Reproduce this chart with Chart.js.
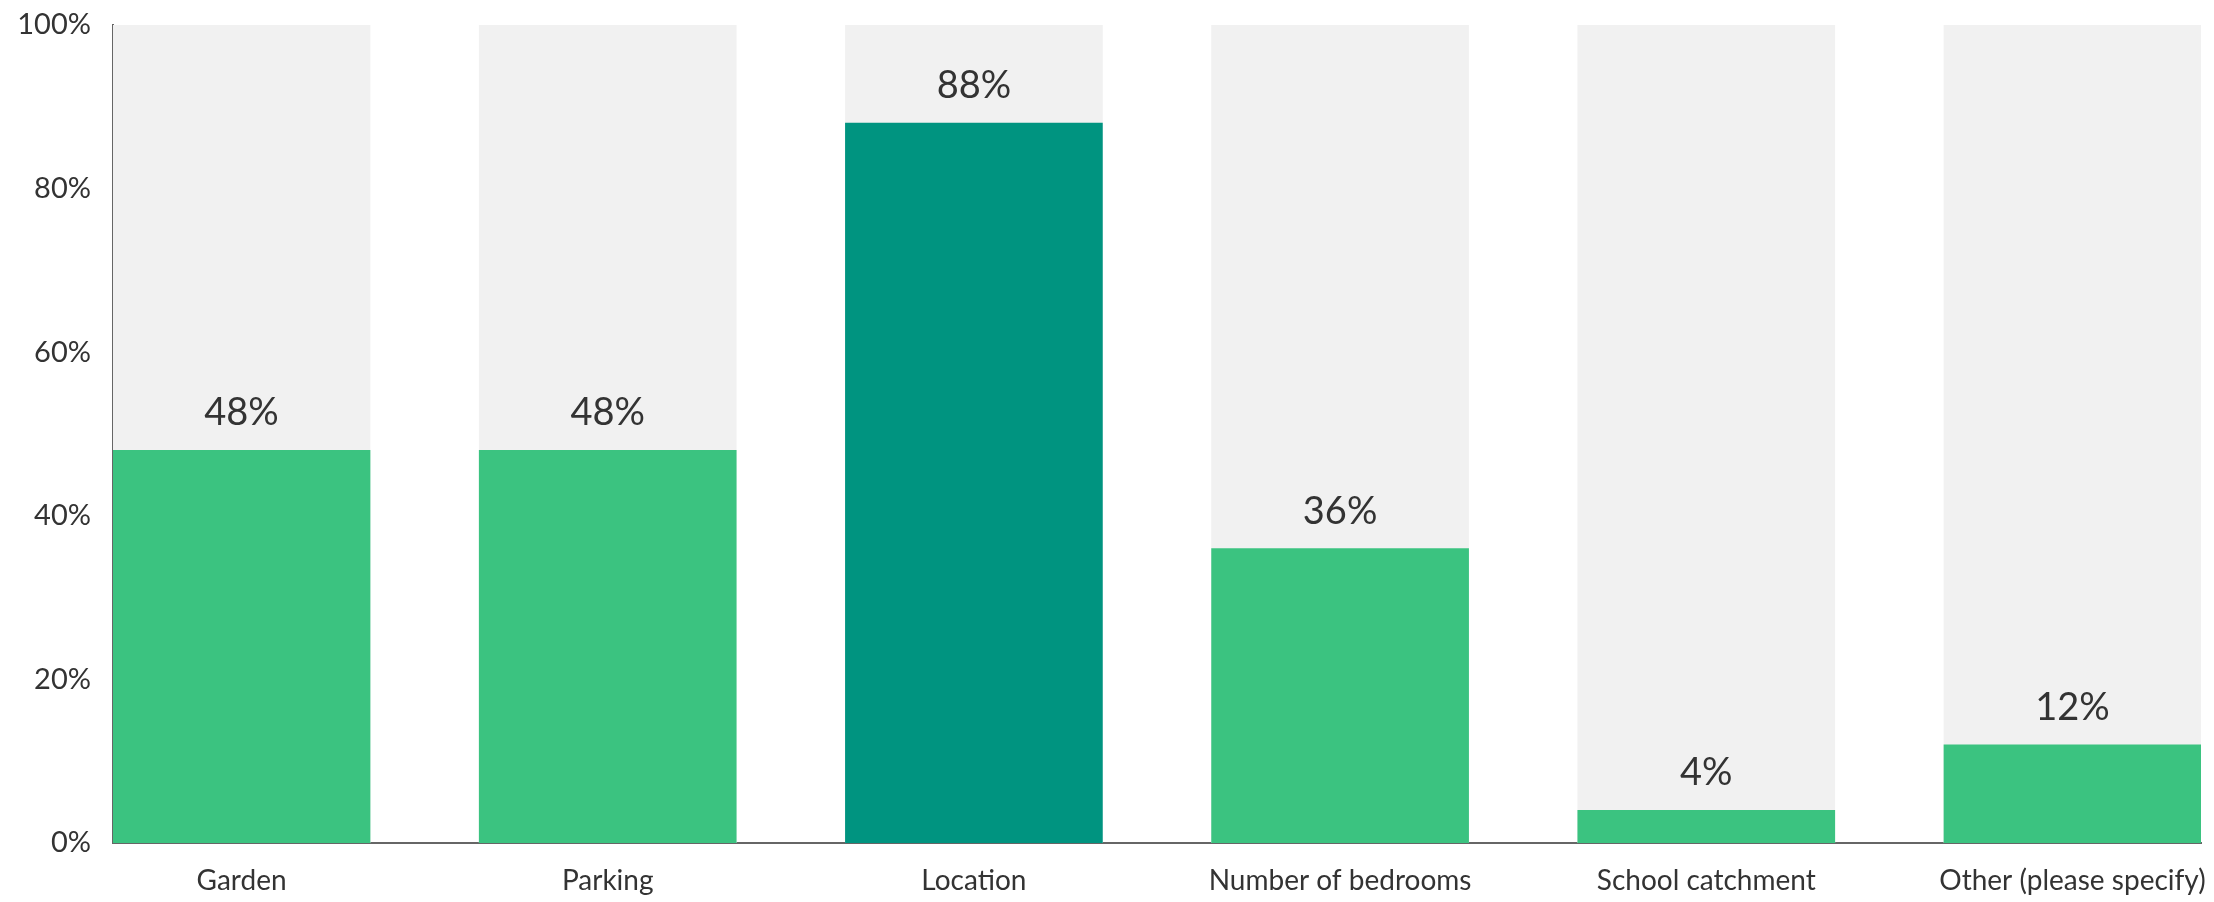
<!DOCTYPE html>
<html>
<head>
<meta charset="utf-8">
<script src="https://cdn.jsdelivr.net/npm/chart.js@4"></script>
<style>
html,body{margin:0;padding:0;background:#fff;}
#wrap{width:2214px;height:902px;}
</style>
</head>
<body>
<div id="wrap"><canvas id="chart" width="2214" height="902"></canvas></div>
<script>
const categories = ['Garden','Parking','Location','Number of bedrooms','School catchment','Other (please specify)'];
const shares = [48,48,88,36,4,12];
const track = [100,100,100,100,100,100];
const highlight = 'Location';

const barColors = categories.map(c => c === highlight ? '#009480' : '#3bc380');

const valueLabels = {
id:'valueLabels',
afterDatasetsDraw(chart){
const ctx = chart.ctx;
const meta = chart.getDatasetMeta(1);
ctx.save();
ctx.font = '38px Lato';
ctx.fillStyle = '#333';
ctx.textAlign = 'center';
ctx.textBaseline = 'alphabetic';
meta.data.forEach((bar,i)=>{
ctx.fillText(shares[i] + '%', bar.x, bar.y - 25);
});
ctx.restore();
}
};

new Chart(document.getElementById('chart'),{
type:'bar',
data:{
datasets:[
{data:track.map((v,i)=>({x:i,y:v})),backgroundColor:'#f1f1f1',grouped:false,order:2,barThickness:257},
{data:shares.map((v,i)=>({x:i,y:v})),backgroundColor:barColors,grouped:false,order:1,barThickness:257}
]
},
options:{
responsive:false,
animation:false,
layout:{padding:{top:0,right:13,left:0,bottom:0}},
plugins:{legend:{display:false},tooltip:{enabled:false}},
scales:{
x:{
type:'linear',
offset:false,
min:-0.351,
max:5.351,
grid:{display:false},
border:{color:'#666',width:2},
afterFit(scale){
scale.height = 59;
scale.paddingLeft = 0;
scale.paddingRight = 0;
},
ticks:{
stepSize:1,
includeBounds:false,
autoSkip:false,
maxRotation:0,
color:'#333',
padding:13,
font:{family:'Lato',size:28},
callback:v => categories[v] ?? ''
}
},
y:{
min:0,
max:100,
grid:{display:false},
border:{color:'#666',width:2},
afterFit(scale){
scale.width = 113;
scale.paddingTop = 25;
scale.paddingBottom = 0;
},
ticks:{
stepSize:20,
color:'#333',
padding:14,
font:{family:'Lato',size:29},
callback:v => v + '%'
}
}
}
},
plugins:[valueLabels]
});
</script>
</body>
</html>
